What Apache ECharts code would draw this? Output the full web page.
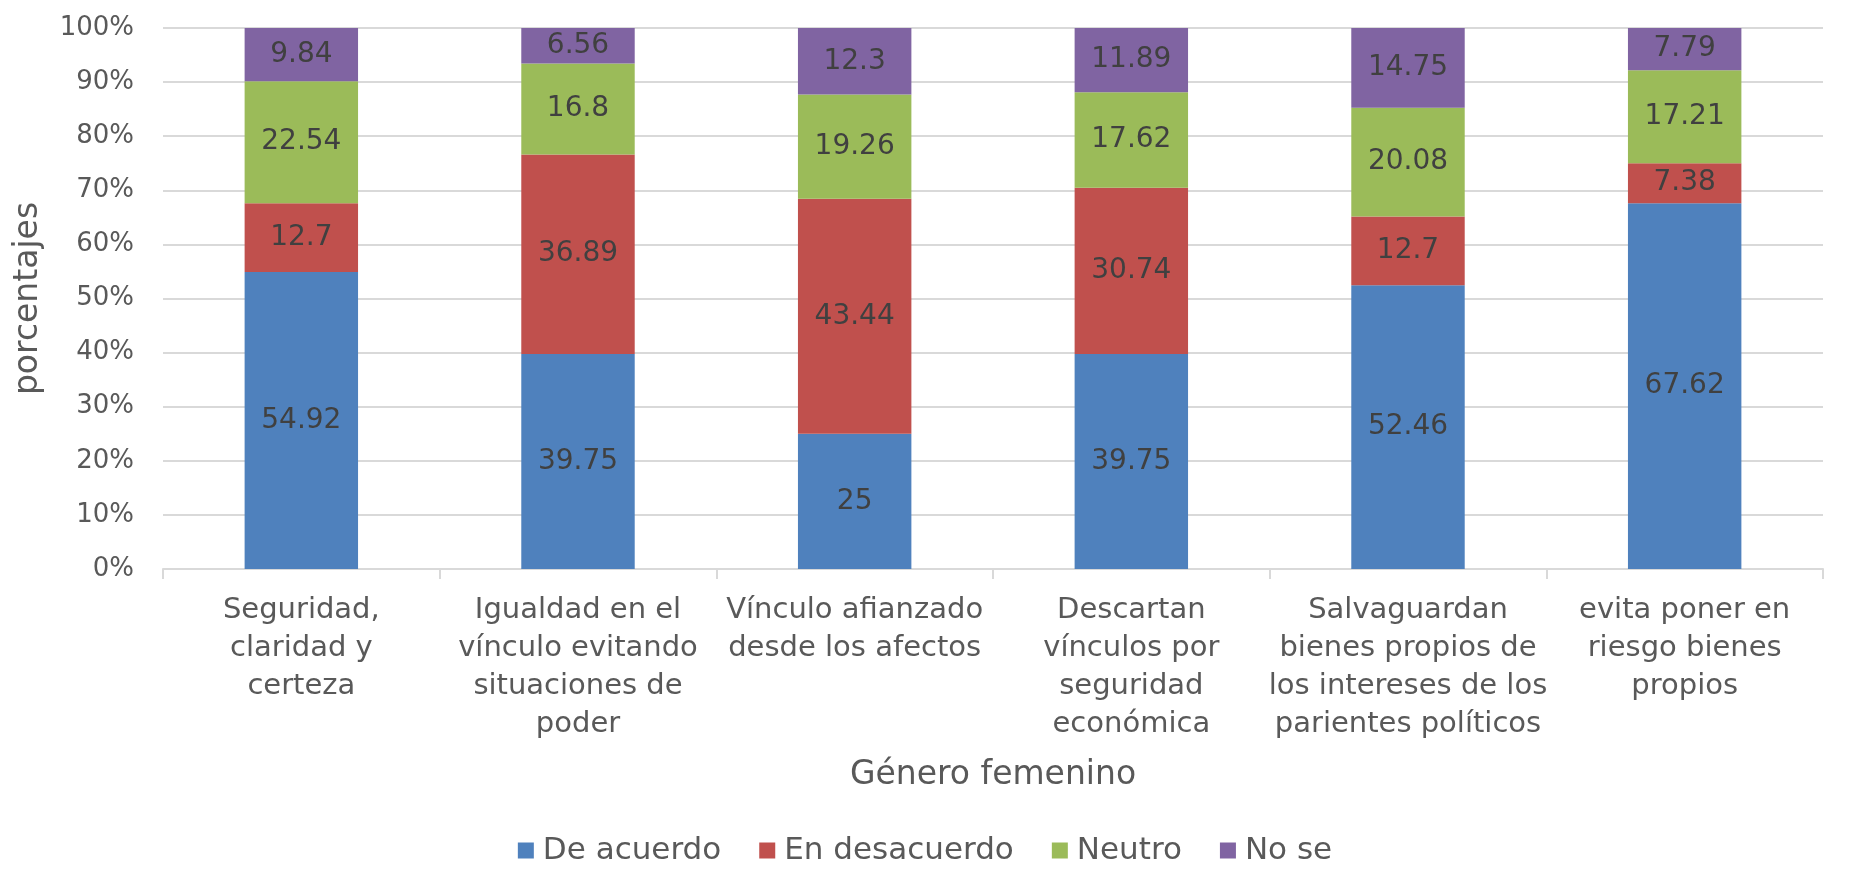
<!DOCTYPE html>
<html>
<head>
<meta charset="utf-8">
<script src="https://cdn.jsdelivr.net/npm/echarts@6/dist/echarts.min.js"></script>
<style>
  html, body { margin: 0; padding: 0; background: #fff; }
  #chart { width: 1850px; height: 871px; }
</style>
</head>
<body>
<div id="chart"></div>
<script>
var categories = [
  'Seguridad,\nclaridad y\ncerteza',
  'Igualdad en el\nvínculo evitando\nsituaciones de\npoder',
  'Vínculo afianzado\ndesde los afectos',
  'Descartan\nvínculos por\nseguridad\neconómica',
  'Salvaguardan\nbienes propios de\nlos intereses de los\nparientes políticos',
  'evita poner en\nriesgo bienes\npropios'
]
var deAcuerdo = [54.92, 39.75, 25, 39.75, 52.46, 67.62]
var enDesacuerdo = [12.7, 36.89, 43.44, 30.74, 12.7, 7.38]
var neutro = [22.54, 16.8, 19.26, 17.62, 20.08, 17.21]
var noSe = [9.84, 6.56, 12.3, 11.89, 14.75, 7.79]

var font = 'Century Gothic, DejaVu Sans, sans-serif'

function serie(name, data, color) {
  return {
    name: name,
    type: 'bar',
    stack: 'total',
    barWidth: '41%',
    data: data,
    itemStyle: { color: color },
    label: {
      show: true,
      position: 'inside',
      color: '#404040',
      fontFamily: font,
      fontSize: 28
    }
  }
}

const chart = echarts.init(document.getElementById('chart'))

let option = {
  animation: false,
  textStyle: { fontFamily: font },
  grid: { left: 163, right: 27, top: 28, bottom: 302 },
  legend: {
    bottom: 0,
    left: 'center',
    itemWidth: 16,
    itemHeight: 16,
    itemGap: 38,
    icon: 'rect',
    textStyle: { color: '#595959', fontSize: 31, fontFamily: font, padding: [0, 0, 0, 4] }
  },
  xAxis: {
    type: 'category',
    data: categories,
    name: 'Género femenino',
    nameLocation: 'middle',
    nameGap: 190,
    nameTextStyle: { color: '#595959', fontSize: 33, fontFamily: font },
    axisLine: { lineStyle: { color: '#D9D9D9', width: 2 } },
    axisTick: { show: true, length: 10, lineStyle: { color: '#D9D9D9', width: 2 } },
    axisLabel: {
      interval: 0,
      margin: 22,
      color: '#595959',
      fontSize: 29,
      lineHeight: 38,
      fontFamily: font
    }
  },
  yAxis: {
    type: 'value',
    min: 0,
    max: 100,
    interval: 10,
    name: 'porcentajes',
    nameLocation: 'middle',
    nameGap: 118,
    nameTextStyle: { color: '#595959', fontSize: 33, fontFamily: font },
    axisLine: { show: false },
    axisTick: { show: false },
    axisLabel: {
      formatter: '{value}%',
      color: '#595959',
      fontSize: 26,
      margin: 29,
      fontFamily: font
    },
    splitLine: { lineStyle: { color: '#D9D9D9', width: 2 } }
  },
  series: [
    serie('De acuerdo', deAcuerdo, '#4F81BD'),
    serie('En desacuerdo', enDesacuerdo, '#C0504D'),
    serie('Neutro', neutro, '#9BBB59'),
    serie('No se', noSe, '#8064A2')
  ]
}

chart.setOption(option)
</script>
</body>
</html>
